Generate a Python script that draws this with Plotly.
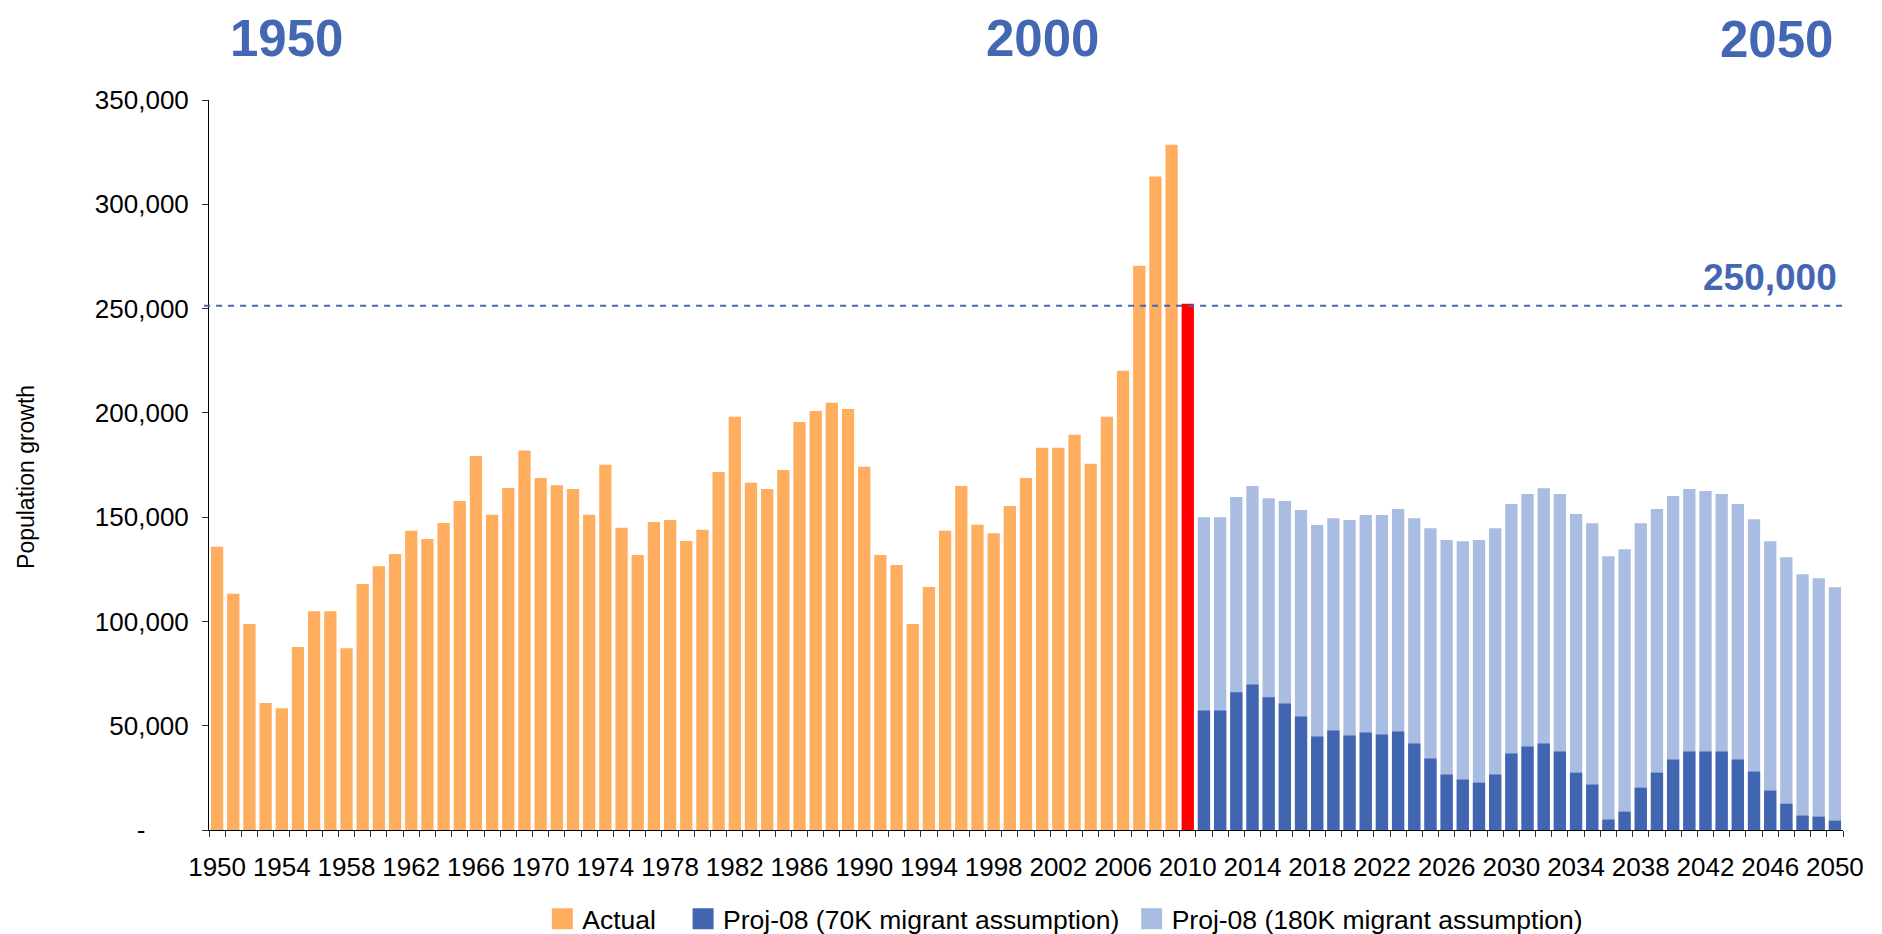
import plotly.graph_objects as go

# Actual population growth, 1950-2009
actual_years = list(range(1950, 2010))
actual_growth = [
    135800, 113300, 98800, 60900, 58400, 87700, 104900, 104900, 87200, 117900,
    126500, 132300, 143500, 139500, 147200, 157700, 179300, 151200, 164000, 181900,
    168800, 165300, 163500, 151200, 175100, 144900, 131900, 147700, 148600, 138600,
    144000, 171600, 198100, 166500, 163500, 172600, 195600, 200900, 204900, 201900,
    174200, 131900, 127000, 98800, 116500, 143500, 164900, 146300, 142300, 155300,
    168800, 183300, 183300, 189500, 175600, 198100, 220200, 270500, 313300, 328600,
]

# 2010 highlighted in red
year_2010 = [2010]
growth_2010 = [252300]

# Projections 2011-2050
proj_years = list(range(2011, 2051))
proj_70k = [
    57300, 57300, 66000, 69800, 63600, 60700, 54400, 44800, 47700, 45300,
    46700, 45800, 47200, 41500, 34300, 26600, 24200, 22700, 26600, 36700,
    40000, 41500, 37600, 27500, 21800, 5000, 8800, 20300, 27500, 33800,
    37600, 37600, 37600, 33800, 28000, 18900, 12600, 6900, 6400, 4500,
]
proj_180k = [
    150000, 150000, 159600, 164900, 159100, 157700, 153400, 146200, 149500, 148600,
    151000, 151000, 153900, 149500, 144700, 139000, 138500, 139000, 144700, 156300,
    161100, 163900, 161100, 151500, 147100, 131300, 134600, 147100, 153900, 160100,
    163500, 162500, 161100, 156300, 149000, 138500, 130800, 122600, 120700, 116400,
]

y_ticks = [0, 50000, 100000, 150000, 200000, 250000, 300000, 350000]
y_ticktext = ["-" + "\u00a0" * 6, "50,000", "100,000", "150,000", "200,000",
              "250,000", "300,000", "350,000"]
threshold = 251300

ORANGE = "#FFAD5F"
DARK = "#4165B0"
LIGHT = "#A9BCE2"
TITLE_BLUE = "#4467B4"
FONT = "Liberation Sans, Arial, sans-serif"

fig = go.Figure()

fig.add_trace(go.Bar(x=actual_years, y=actual_growth, width=0.76,
                     marker=dict(color=ORANGE, line_width=0), showlegend=False))
fig.add_trace(go.Bar(x=year_2010, y=growth_2010, width=0.76,
                     marker=dict(color="#FF0000", line_width=0), showlegend=False))
fig.add_trace(go.Bar(x=proj_years, y=proj_180k, width=0.76,
                     marker=dict(color=LIGHT, line_width=0), showlegend=False))
fig.add_trace(go.Bar(x=proj_years, y=proj_70k, width=0.76,
                     marker=dict(color=DARK, line_width=0), showlegend=False))

# legend entries with bigger square swatches
nb = "\u00a0"
for name, col in [("Actual" + nb * 3, ORANGE),
                  ("Proj-08 (70K migrant assumption)" + nb, DARK),
                  ("Proj-08 (180K migrant assumption)", LIGHT)]:
    fig.add_trace(go.Scatter(x=[None], y=[None], mode="markers", name=name,
                             marker=dict(symbol="square", size=16, color=col,
                                         line=dict(color=col, width=5))))

fig.add_shape(type="line", xref="paper", yref="y", x0=-0.003, x1=1,
              y0=threshold, y1=threshold, layer="above",
              line=dict(color=TITLE_BLUE, width=2, dash="6px,6px"))

for txt, x, y, size in [("1950", 0.0475, 1.0849, 51),
                        ("2000", 0.5104, 1.0849, 51),
                        ("2050", 0.9596, 1.0822, 51),
                        ("250,000", 0.9553, 0.7575, 37)]:
    fig.add_annotation(text="<b>" + txt + "</b>", xref="paper", yref="paper",
                       x=x, y=y, showarrow=False, xanchor="center", yanchor="middle",
                       font=dict(family=FONT, size=size, color=TITLE_BLUE))

fig.add_annotation(text="Population growth", xref="paper", yref="paper",
                   x=-0.112, y=0.4836, textangle=-90, showarrow=False,
                   xanchor="center", yanchor="middle",
                   font=dict(family=FONT, size=23, color="#000"))

fig.update_layout(
    width=1874, height=926,
    margin=dict(l=201, r=39, t=92, b=104, autoexpand=False),
    plot_bgcolor="white", paper_bgcolor="white",
    barmode="overlay",
    font=dict(family=FONT, size=26, color="#000"),
    legend=dict(orientation="h", x=0.204, y=-0.1219, xanchor="left", yanchor="middle",
                font=dict(size=26.5), itemsizing="trace"),
)

fig.update_xaxes(
    range=[1949.5, 2050.5], tickmode="linear", tick0=1950, dtick=4,
    ticks="", showgrid=False, zeroline=False, automargin=False,
    showline=True, linecolor="#000", linewidth=1,
    ticklabelstandoff=14,
    minor=dict(tick0=1949.5, dtick=1, ticks="outside", ticklen=6,
               tickcolor="#333", showgrid=False),
)
fig.update_yaxes(
    range=[0, 350000], tickmode="array", tickvals=y_ticks, ticktext=y_ticktext,
    ticks="outside", ticklen=6, tickcolor="#333", showgrid=False, zeroline=False,
    showline=True, linecolor="#000", linewidth=1, ticklabelstandoff=8,
    automargin=False,
)

fig.write_html("out.html")
